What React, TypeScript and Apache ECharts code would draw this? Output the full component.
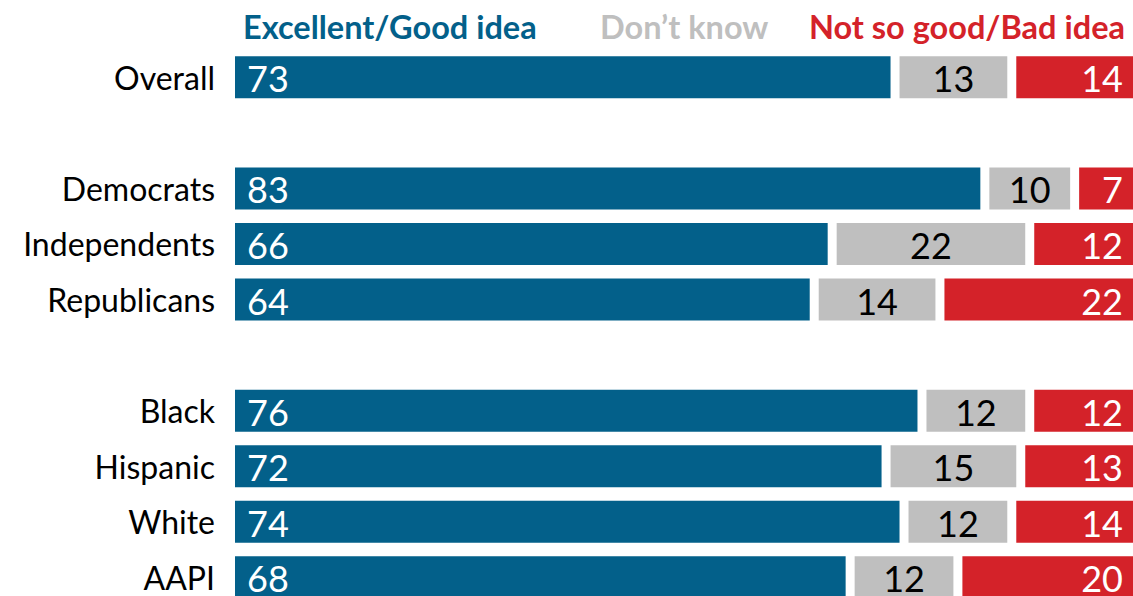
import React, { useEffect, useRef } from "react";
import * as echarts from "echarts";

const categories = ["Overall", "", "Democrats", "Independents", "Republicans", "", "Black", "Hispanic", "White", "AAPI"];
const goodValues = [73, null, 83, 66, 64, null, 76, 72, 74, 68];
const dontKnowValues = [13, null, 10, 22, 14, null, 12, 15, 12, 12];
const badValues = [14, null, 7, 12, 22, null, 12, 13, 14, 20];
const legendLabels = ["Excellent/Good idea", "Don\u2019t know", "Not so good/Bad idea"];

const BLUE = "#03608a";
const GRAY = "#bfbfbf";
const RED = "#d42229";
const FONT = "Lato, 'Noto Sans', sans-serif";

export default function App() {
  const ref = useRef<HTMLDivElement>(null);
  useEffect(() => {
    document.body.style.margin = "0";
    const chart = echarts.init(ref.current!, null, { renderer: "svg" });
    const data = categories
      .map((c, i) => [i, goodValues[i], dontKnowValues[i], badValues[i]])
      .filter((d) => d[1] != null);
    const GAP = 9;
    const BAR_H = 42;
    chart.setOption({
      animation: false,
      grid: { left: 235, right: 0, top: 49.5, height: 555.6, containLabel: false },
      xAxis: { type: "value", min: 0, max: 100, show: false },
      yAxis: {
        type: "category",
        data: categories,
        inverse: true,
        axisLine: { show: false },
        axisTick: { show: false },
        splitLine: { show: false },
        axisLabel: { color: "#000", fontSize: 32, fontFamily: FONT, margin: 20 },
      },
      graphic: [
        { type: "text", x: 243, y: 26, style: { text: legendLabels[0], fill: BLUE, font: `bold 32.5px ${FONT}`, verticalAlign: "middle", align: "left" } },
        { type: "text", x: 600, y: 26, style: { text: legendLabels[1], fill: GRAY, font: `bold 32.5px ${FONT}`, verticalAlign: "middle", align: "left" } },
        { type: "text", x: 1125, y: 26, style: { text: legendLabels[2], fill: RED, font: `bold 32.5px ${FONT}`, verticalAlign: "middle", align: "right" } },
      ],
      series: [
        {
          type: "custom",
          data,
          encode: { x: [1, 2, 3], y: 0 },
          renderItem: (params: any, api: any) => {
            const idx = api.value(0);
            const g = api.value(1);
            const d = api.value(2);
            const b = api.value(3);
            const p0 = api.coord([0, idx]);
            const p1 = api.coord([g, idx]);
            const p2 = api.coord([g + d, idx]);
            const p3 = api.coord([g + d + b, idx]);
            const cy = p0[1];
            const top = cy - BAR_H / 2;
            const font = `36px ${FONT}`;
            return {
              type: "group",
              children: [
                { type: "rect", shape: { x: p0[0], y: top, width: p1[0] - p0[0], height: BAR_H }, style: { fill: BLUE } },
                { type: "rect", shape: { x: p1[0] + GAP, y: top, width: p2[0] - p1[0] - GAP, height: BAR_H }, style: { fill: GRAY } },
                { type: "rect", shape: { x: p2[0] + GAP, y: top, width: p3[0] - p2[0] - GAP, height: BAR_H }, style: { fill: RED } },
                { type: "text", style: { text: String(g), x: p0[0] + 12, y: cy + 1, fill: "#fff", font, align: "left", verticalAlign: "middle" } },
                { type: "text", style: { text: String(d), x: (p1[0] + GAP + p2[0]) / 2, y: cy + 1, fill: "#000", font, align: "center", verticalAlign: "middle" } },
                { type: "text", style: { text: String(b), x: p3[0] - 10, y: cy + 1, fill: "#fff", font, align: "right", verticalAlign: "middle" } },
              ],
            };
          },
        },
      ],
    });
    return () => chart.dispose();
  }, []);
  return (
    <div style={{ width: 1133, height: 596, position: "absolute", left: 0, top: 0, overflow: "hidden" }}>
      <div ref={ref} style={{ width: 1133, height: 620 }} />
    </div>
  );
}
